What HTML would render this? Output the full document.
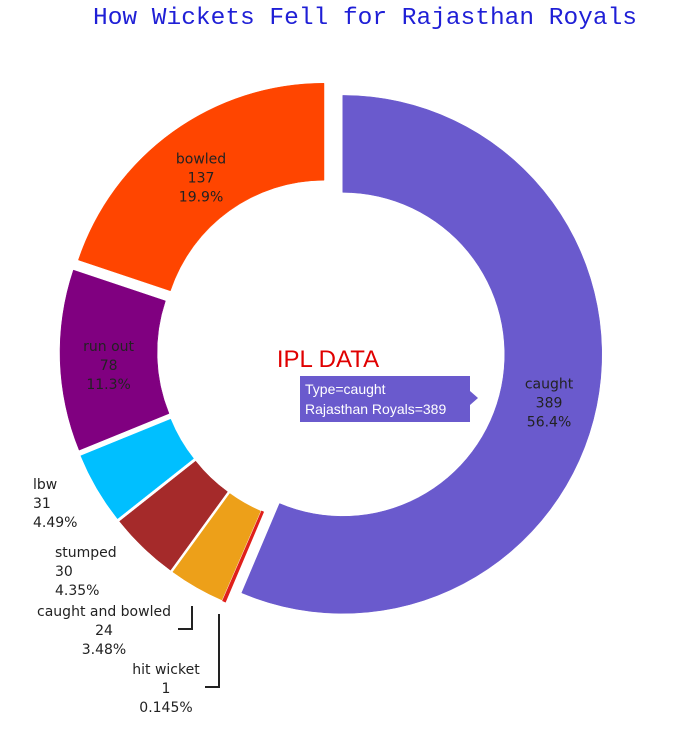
<!DOCTYPE html>
<html><head><meta charset="utf-8"><style>
body{margin:0;background:#fff;}
svg{display:block;}
</style></head><body>
<svg id="chart" width="695" height="729" xmlns="http://www.w3.org/2000/svg">
<text x="365" y="24" text-anchor="middle" font-family="'Liberation Mono',monospace" font-size="24.5" fill="#1f1fd6">How Wickets Fell for Rajasthan Royals</text>
<g id="slices"></g>
<g id="labels" font-family="'DejaVu Sans',sans-serif" font-size="14" fill="#222"></g>
<text x="328" y="367" text-anchor="middle" font-family="'Liberation Sans',sans-serif" font-size="24" fill="#e00000">IPL DATA</text>
<g>
<path d="M300,376 H470 V391 L478,398 L470,405 V422 H300 Z" fill="#6a5acd"/>
<text x="305" y="394" font-family="'Liberation Sans',sans-serif" font-size="14" fill="#fff">Type=caught</text>
<text x="305" y="414" font-family="'Liberation Sans',sans-serif" font-size="14" fill="#fff">Rajasthan Royals=389</text>
</g>
</svg>
<script>
const types=["caught","hit wicket","caught and bowled","stumped","lbw","run out","bowled"];
const values=[389,1,24,30,31,78,137];
const colors=["#6a5acd","#e0201b","#eda019","#a52a2a","#00bfff","#800080","#ff4500"];
const pcts=["56.4%","0.145%","3.48%","4.35%","4.49%","11.3%","19.9%"];
const cx=331,cy=352,R=259,r=162,pull=12;
const total=values.reduce((a,b)=>a+b,0);
const NS="http://www.w3.org/2000/svg";
const gs=document.getElementById('slices'),gl=document.getElementById('labels');
function pt(a,rad,ox,oy){return [ox+rad*Math.sin(a),oy-rad*Math.cos(a)];}
let acc=0;
const outside={ "lbw":[33,489,"start"], "stumped":[55,557,"start"], "caught and bowled":[104,616,"middle"], "hit wicket":[166,674,"middle"]};
values.forEach((v,i)=>{
  const a0=acc/total*2*Math.PI; acc+=v; const a1=acc/total*2*Math.PI;
  const am=(a0+a1)/2;
  const ox=cx+pull*Math.sin(am), oy=cy-pull*Math.cos(am);
  const large=(a1-a0)>Math.PI?1:0;
  const p1=pt(a0,R,ox,oy),p2=pt(a1,R,ox,oy),p3=pt(a1,r,ox,oy),p4=pt(a0,r,ox,oy);
  const path=document.createElementNS(NS,'path');
  path.setAttribute('d',`M${p1} A${R},${R} 0 ${large} 1 ${p2} L${p3} A${r},${r} 0 ${large} 0 ${p4} Z`);
  path.setAttribute('fill',colors[i]);
  path.setAttribute('stroke',colors[i]);
  path.setAttribute('stroke-width',i==1?1.5:0.5);
  
  
  gs.appendChild(path);
  let x,y,anchor="middle";
  if(outside[types[i]]){[x,y,anchor]=outside[types[i]];}
  else{const c=pt(am,(R+r)/2,ox,oy);x=c[0];y=c[1]-19+11;}
  const t=document.createElementNS(NS,'text');
  t.setAttribute('text-anchor',anchor);
  
  
  [types[i],String(v),pcts[i]].forEach((s,k)=>{
    const ts=document.createElementNS(NS,'tspan');
    ts.setAttribute('x',x);ts.setAttribute('y',y+k*19);ts.textContent=s;t.appendChild(ts);
  });
  gl.appendChild(t);
});
const lines=[["M192,606 V629 H178","connector-caught-and-bowled"],["M219,614 V687 H205","connector-hit-wicket"]];
lines.forEach(l=>{
  const p=document.createElementNS(NS,'path');
  p.setAttribute('d',l[0]);p.setAttribute('fill','none');p.setAttribute('stroke','#222');p.setAttribute('stroke-width','2');
  
  
  gs.appendChild(p);
});
</script>
</body></html>
